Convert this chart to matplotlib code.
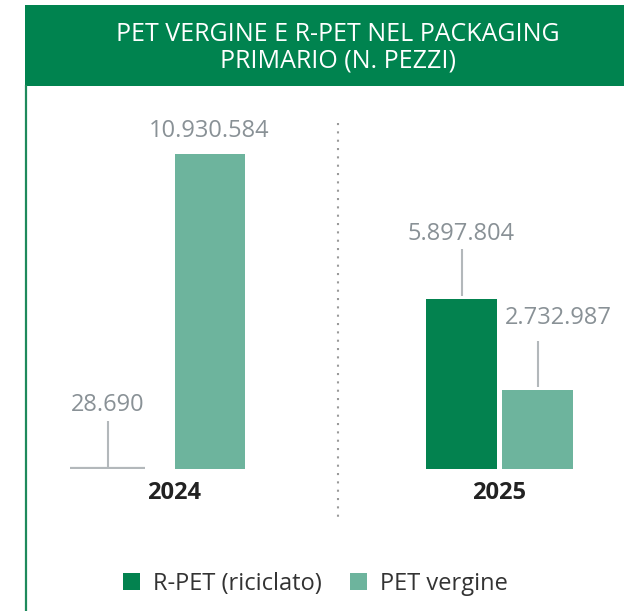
import matplotlib
matplotlib.use("Agg")
import matplotlib.pyplot as plt
from matplotlib.patches import Rectangle, Patch
from matplotlib.lines import Line2D

plt.rcParams['font.family'] = ['Open Sans', 'DejaVu Sans']

# --- data ---------------------------------------------------------------
title = "PET VERGINE E R-PET NEL PACKAGING\nPRIMARIO (N. PEZZI)"
years = ["2024", "2025"]
series = ["R-PET (riciclato)", "PET vergine"]
r_pet = [28690, 5897804]
pet_vergine = [10930584, 2732987]

# --- style --------------------------------------------------------------
DARK = "#03824F"
LIGHT = "#6DB49D"
HEADER = "#00834F"
LABEL_GREY = "#899196"
LEADER_GREY = "#B3B8BB"
TEXT_DARK = "#222222"

W, H = 624, 611
fig = plt.figure(figsize=(W / 100, H / 100), dpi=100)


def fx(px):
    return px / W


def fy(py):
    return 1 - py / H


# plotting area: x in pixel-like units, y in number of pieces
YMAX = 12e6
base_y = 469
top_y = base_y - 315 * YMAX / 10930584
ax = fig.add_axes([0, fy(base_y), 1, (base_y - top_y) / H])
ax.set_xlim(0, W)
ax.set_ylim(0, YMAX)
ax.axis("off")
px_per_unit = (base_y - top_y) / YMAX

# bar layout (centres / widths per year group)
r_x = [107.5, 461.5]
r_w = [75, 71]
v_x = [210, 537.5]
v_w = [70, 71]

ax.bar(r_x, r_pet, width=r_w, color=DARK, linewidth=0)
ax.bar(v_x, pet_vergine, width=v_w, color=LIGHT, linewidth=0)

# near-zero 2024 R-PET value shown as a grey base stroke
ax.plot([r_x[0] - r_w[0] / 2, r_x[0] + r_w[0] / 2], [r_pet[0], r_pet[0]],
        color=LEADER_GREY, lw=1.6, solid_capstyle="butt")


def fmt(v):
    return f"{v:,}".replace(",", ".")


def value_label(x, v, text_dx, text_dy, leader=None):
    ax.annotate(fmt(v), xy=(x, v), xytext=(text_dx, text_dy),
                textcoords="offset pixels", ha="center", va="baseline",
                fontsize=17, color=LABEL_GREY, fontweight="medium")
    if leader is not None:
        lo, hi = leader
        ax.plot([x, x], [v + lo / px_per_unit, v + hi / px_per_unit],
                color=LEADER_GREY, lw=1.5, solid_capstyle="butt")


value_label(r_x[0], r_pet[0], 0, 57, leader=(0, 47))
value_label(v_x[0], pet_vergine[0], -1, 17)
value_label(r_x[1], r_pet[1], 0, 59, leader=(3, 50))
value_label(v_x[1], pet_vergine[1], 21, 66, leader=(3, 49))

# year labels
fig.text(fx(174.5), fy(499), years[0], ha="center", va="baseline",
         fontsize=17, fontweight="bold", color=TEXT_DARK)
fig.text(fx(499), fy(499), years[1], ha="center", va="baseline",
         fontsize=17, fontweight="bold", color=TEXT_DARK)

# dotted separator between the two years
fig.add_artist(Line2D([fx(338), fx(338)], [fy(123), fy(520)],
                      transform=fig.transFigure, color="#9A9A9A",
                      lw=1.5, linestyle=(0, (1, 3))))

# header band and left border
fig.add_artist(Rectangle((fx(25), fy(86)), fx(W - 25), (86 - 5) / H,
                         transform=fig.transFigure, color=HEADER, lw=0))
fig.add_artist(Line2D([fx(26), fx(26)], [fy(86), 0],
                      transform=fig.transFigure, color="#1E8A5C", lw=1.6))
fig.text(fx(337.5), fy(48), title, ha="center", va="center",
         fontsize=18, color="white", linespacing=1.1, fontweight="medium")

# legend
handles = [Patch(facecolor=DARK, edgecolor="none", label=series[0]),
           Patch(facecolor=LIGHT, edgecolor="none", label=series[1])]
fig.legend(handles=handles, loc="center", bbox_to_anchor=(fx(315), fy(584)),
           ncol=2, frameon=False, fontsize=17, handlelength=0.72,
           handleheight=0.72, handletextpad=0.55, columnspacing=1.2,
           labelcolor="#333333", borderpad=0, borderaxespad=0,
           prop={"size": 17, "weight": "medium"})

fig.savefig("out.png", dpi=100)
